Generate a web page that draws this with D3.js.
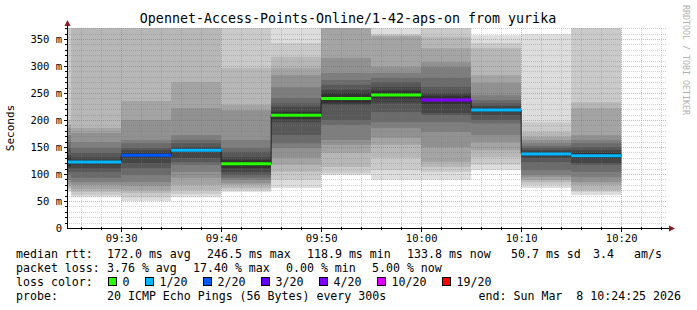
<!DOCTYPE html>
<html>
<head>
<meta charset="utf-8">
<script src="https://cdn.jsdelivr.net/npm/d3@7"></script>
<style>
  body { margin: 0; background: #fff; }
  svg { display: block; font-family: "DejaVu Sans Mono", monospace; }
  text { white-space: pre; }
</style>
</head>
<body>
<div id="chart"></div>
<script>
// 5 minute steps, start time of each step
const stepStarts = ["09:20", "09:25", "09:30", "09:35", "09:40", "09:45",
  "09:50", "09:55", "10:00", "10:05", "10:10", "10:15"];
const medians = [122, 122, 134.6, 144, 118.9, 208.6, 240, 246.5, 237, 218.5, 137, 133.8];
const lossCounts = [1, 1, 2, 1, 0, 0, 0, 0, 4, 1, 1, 1];
// 20 sorted pings per step (ms)
const pings = [
  [67, 70, 74, 78, 83, 89, 98, 104, 111, 114, 130, 135, 148, 159, 172, 185, 191, 200, 450, 500],
  [57, 61, 67, 72, 80, 85, 93, 104, 111, 118, 126, 131, 139, 148, 159, 176, 185, 400, 450, 500],
  [50, 57, 65, 70, 78, 85, 98, 111, 120, 131, 139, 144, 148, 157, 163, 200, 235, 390, 420, 480],
  [57, 63, 70, 80, 93, 104, 117, 122, 130, 141, 147, 150, 157, 163, 172, 222, 270, 390, 420, 470],
  [67, 70, 74, 80, 83, 89, 93, 98, 104, 111, 126, 131, 141, 148, 163, 218, 228, 296, 380, 420],
  [74, 89, 104, 117, 130, 148, 157, 172, 196, 202, 215, 224, 231, 241, 261, 283, 296, 317, 343, 400],
  [98, 102, 113, 139, 154, 163, 191, 200, 228, 231, 250, 256, 265, 274, 287, 315, 390, 420, 460, 500],
  [89, 107, 130, 154, 167, 185, 196, 215, 231, 239, 254, 261, 270, 278, 287, 298, 355, 357, 359, 380],
  [89, 104, 113, 122, 150, 178, 196, 209, 213, 229, 245, 250, 261, 278, 298, 307, 333, 354, 380, 400],
  [107, 117, 131, 144, 159, 172, 194, 200, 209, 215, 222, 226, 231, 237, 246, 269, 283, 333, 343, 357],
  [74, 80, 85, 89, 94, 98, 107, 122, 130, 133, 141, 144, 148, 152, 157, 163, 169, 178, 196, 359],
  [61, 67, 70, 80, 85, 94, 104, 117, 120, 129, 139, 144, 150, 157, 163, 172, 222, 233, 390, 420]
];
const yTicks = [0, 50, 100, 150, 200, 250, 300, 350];
const lossLabels = ["0", "1/20", "2/20", "3/20", "4/20", "10/20", "19/20"];
const lossColors = ["#26ff00", "#00b8ff", "#0059ff", "#5e00ff", "#7e00ff", "#dd00ff", "#ff0000"];
const lossIndex = { 0: 0, 1: 1, 2: 2, 3: 3, 4: 4, 10: 5, 19: 6 };

const legendRtt = [["172.0 ms avg", 107], ["246.5 ms max", 207], ["118.9 ms min", 307],
  ["133.8 ms now", 407], ["50.7 ms sd", 511], ["3.4", 593], ["am/s", 634]];
const legendLoss = [["3.76 % avg", 107], ["17.40 % max", 193], ["0.00 % min", 286], ["5.00 % now", 372]];

const W = 697, H = 310;
const margin = { top: 28, left: 67 };
const plotW = 600, plotH = 200;

const parse = d3.timeParse("%Y-%m-%d %H:%M:%S");
const t0 = parse("2026-03-08 09:24:35"), t1 = parse("2026-03-08 10:24:35");
const starts = stepStarts.map(s => parse("2026-03-08 " + s + ":00"));
const ends = starts.map(d => d3.timeMinute.offset(d, 5));

const x = d3.scaleTime().domain([t0, t1]).range([margin.left, margin.left + plotW]);
const y = d3.scaleLinear().domain([0, 370.37]).range([margin.top + plotH, margin.top]);

const svg = d3.select('#chart').append('svg')
  .attr('width', W).attr('height', H);

svg.append('rect').attr('width', W).attr('height', H).attr('fill', '#fff');

svg.append('clipPath').attr('id', 'plot')
  .append('rect').attr('x', margin.left).attr('y', margin.top)
  .attr('width', plotW).attr('height', plotH);

// smoke: band i spans ping[i] .. ping[21-i], darker toward the centre
const half = 10;
const smoke = svg.append('g').attr('clip-path', 'url(#plot)');
pings.forEach((p, k) => {
  for (let i = 1; i <= half; i++) {
    const c = Math.floor(190 / half * (half - i)) + 50;
    smoke.append('rect')
      .attr('x', x(starts[k]))
      .attr('width', x(ends[k]) - x(starts[k]))
      .attr('y', y(p[20 - i]))
      .attr('height', y(p[i - 1]) - y(p[20 - i]))
      .attr('fill', d3.rgb(c, c, c));
  }
});

// grid
const grid = svg.append('g').attr('stroke-dasharray', '1,1').attr('stroke-width', 1);
const minorX = d3.timeMinute.every(2).range(t0, t1);
grid.selectAll('.vx').data(minorX.filter(d => d.getMinutes() % 10 != 0)).enter().append('line')
  .attr('x1', d => Math.round(x(d)) + 0.5).attr('x2', d => Math.round(x(d)) + 0.5)
  .attr('y1', margin.top).attr('y2', margin.top + plotH)
  .attr('stroke', 'rgba(120,120,120,0.35)');
const minorY = d3.range(10, 371, 10).filter(v => v % 50 != 0);
grid.selectAll('.hy').data(minorY).enter().append('line')
  .attr('x1', margin.left).attr('x2', margin.left + plotW)
  .attr('y1', d => Math.round(y(d)) + 0.5).attr('y2', d => Math.round(y(d)) + 0.5)
  .attr('stroke', 'rgba(120,120,120,0.35)');
const majorX = d3.timeMinute.every(10).range(t0, t1);
grid.selectAll('.mx').data(majorX).enter().append('line')
  .attr('x1', d => Math.round(x(d)) + 0.5).attr('x2', d => Math.round(x(d)) + 0.5)
  .attr('y1', margin.top).attr('y2', margin.top + plotH)
  .attr('stroke', 'rgba(225,60,60,0.45)');
grid.selectAll('.my').data(yTicks.filter(d => d > 0)).enter().append('line')
  .attr('x1', margin.left).attr('x2', margin.left + plotW)
  .attr('y1', d => Math.round(y(d)) + 0.5).attr('y2', d => Math.round(y(d)) + 0.5)
  .attr('stroke', 'rgba(225,60,60,0.45)');

// median: thin dark step line, then loss coloured segments
const medPts = medians.map((m, k) => [starts[k], m]);
medPts.push([ends[ends.length - 1], medians[medians.length - 1]]);
const medLine = d3.line().x(d => x(d[0])).y(d => y(d[1])).curve(d3.curveStepAfter);
const med = svg.append('g').attr('clip-path', 'url(#plot)');
med.append('path').attr('d', medLine(medPts))
  .attr('fill', 'none').attr('stroke', '#202020').attr('stroke-width', 1);
med.selectAll('.seg').data(medians).enter().append('line')
  .attr('x1', (d, k) => x(starts[k])).attr('x2', (d, k) => x(ends[k]))
  .attr('y1', d => y(d)).attr('y2', d => y(d))
  .attr('stroke', (d, k) => lossColors[lossIndex[lossCounts[k]]])
  .attr('stroke-width', 3);

// axes
const axisY0 = margin.top + plotH;
svg.append('line').attr('x1', margin.left).attr('x2', margin.left + plotW + 3)
  .attr('y1', axisY0 + 0.5).attr('y2', axisY0 + 0.5).attr('stroke', '#000');
svg.append('line').attr('x1', margin.left + 0.5).attr('x2', margin.left + 0.5)
  .attr('y1', axisY0).attr('y2', margin.top - 4).attr('stroke', '#000');
svg.append('path').attr('d', `M${margin.left + 0.5},${margin.top - 8} l-3,6 l6,0 z`).attr('fill', '#8b1a1a');
svg.append('path').attr('d', `M${margin.left + plotW + 8},${axisY0 + 0.5} l-6,-3 l0,6 z`).attr('fill', '#8b1a1a');

const ticks = svg.append('g').attr('stroke', '#000');
ticks.selectAll('.tx').data(minorX).enter().append('line')
  .attr('x1', d => Math.round(x(d)) + 0.5).attr('x2', d => Math.round(x(d)) + 0.5)
  .attr('y1', axisY0 - 1).attr('y2', d => axisY0 + (d.getMinutes() % 10 == 0 ? 4 : 2));
ticks.selectAll('.ty').data(d3.range(10, 371, 10)).enter().append('line')
  .attr('y1', d => Math.round(y(d)) + 0.5).attr('y2', d => Math.round(y(d)) + 0.5)
  .attr('x1', d => margin.left - (d % 50 == 0 ? 3 : 2)).attr('x2', margin.left + 1);

const xAxis = svg.append('g')
  .attr('transform', `translate(0,${axisY0})`)
  .call(d3.axisBottom(x).ticks(d3.timeMinute.every(10)).tickFormat(d3.timeFormat('%H:%M')).tickSize(0).tickPadding(7));
xAxis.select('.domain').remove();
xAxis.selectAll('text').attr('font-family', '"DejaVu Sans Mono", monospace').attr('font-size', 10.5).attr('fill', '#000');

const yAxis = svg.append('g')
  .attr('transform', `translate(${margin.left},0)`)
  .call(d3.axisLeft(y).tickValues(yTicks).tickFormat(d => d === 0 ? '0' : d + ' m').tickSize(0).tickPadding(5));
yAxis.select('.domain').remove();
yAxis.selectAll('text').attr('font-family', '"DejaVu Sans Mono", monospace').attr('font-size', 10.5).attr('fill', '#000');

// title, labels
svg.append('text').attr('x', 348).attr('y', 23).attr('text-anchor', 'middle')
  .attr('font-size', 13.3).text('Opennet-Access-Points-Online/1-42-aps-on from yurika');
svg.append('text').attr('transform', 'translate(14,128) rotate(-90)').attr('text-anchor', 'middle')
  .attr('font-size', 11).text('Seconds');
svg.append('text').attr('transform', 'translate(683,5) rotate(90)')
  .attr('font-size', 8.3).attr('fill', '#b0b0b0').text('RRDTOOL / TOBI OETIKER');

// legend
const fs = 11.6, charW = 7, gap = 16;
const leg = svg.append('g').attr('font-size', fs).attr('fill', '#000');
leg.append('text').attr('x', 16).attr('y', 258).text('median rtt:');
leg.selectAll('.rtt').data(legendRtt).enter().append('text')
  .attr('x', d => d[1]).attr('y', 258).text(d => d[0]);
leg.append('text').attr('x', 16).attr('y', 272).text('packet loss:');
leg.selectAll('.loss').data(legendLoss).enter().append('text')
  .attr('x', d => d[1]).attr('y', 272).text(d => d[0]);
leg.append('text').attr('x', 16).attr('y', 286).text('loss color:');
let bx = 108.5;
lossLabels.forEach((l, i) => {
  leg.append('rect').attr('x', bx).attr('y', 277.5).attr('width', 8).attr('height', 8)
    .attr('fill', lossColors[i]).attr('stroke', '#000').attr('stroke-width', 1);
  leg.append('text').attr('x', bx + 14).attr('y', 286).text(l);
  bx += 14 + l.length * charW + gap;
});
leg.append('text').attr('x', 16).attr('y', 300).text('probe:');
leg.append('text').attr('x', 107).attr('y', 300).text('20 ICMP Echo Pings (56 Bytes) every 300s');
leg.append('text').attr('x', 681).attr('y', 300).attr('text-anchor', 'end').text('end: Sun Mar  8 10:24:25 2026');
</script>
</body>
</html>
